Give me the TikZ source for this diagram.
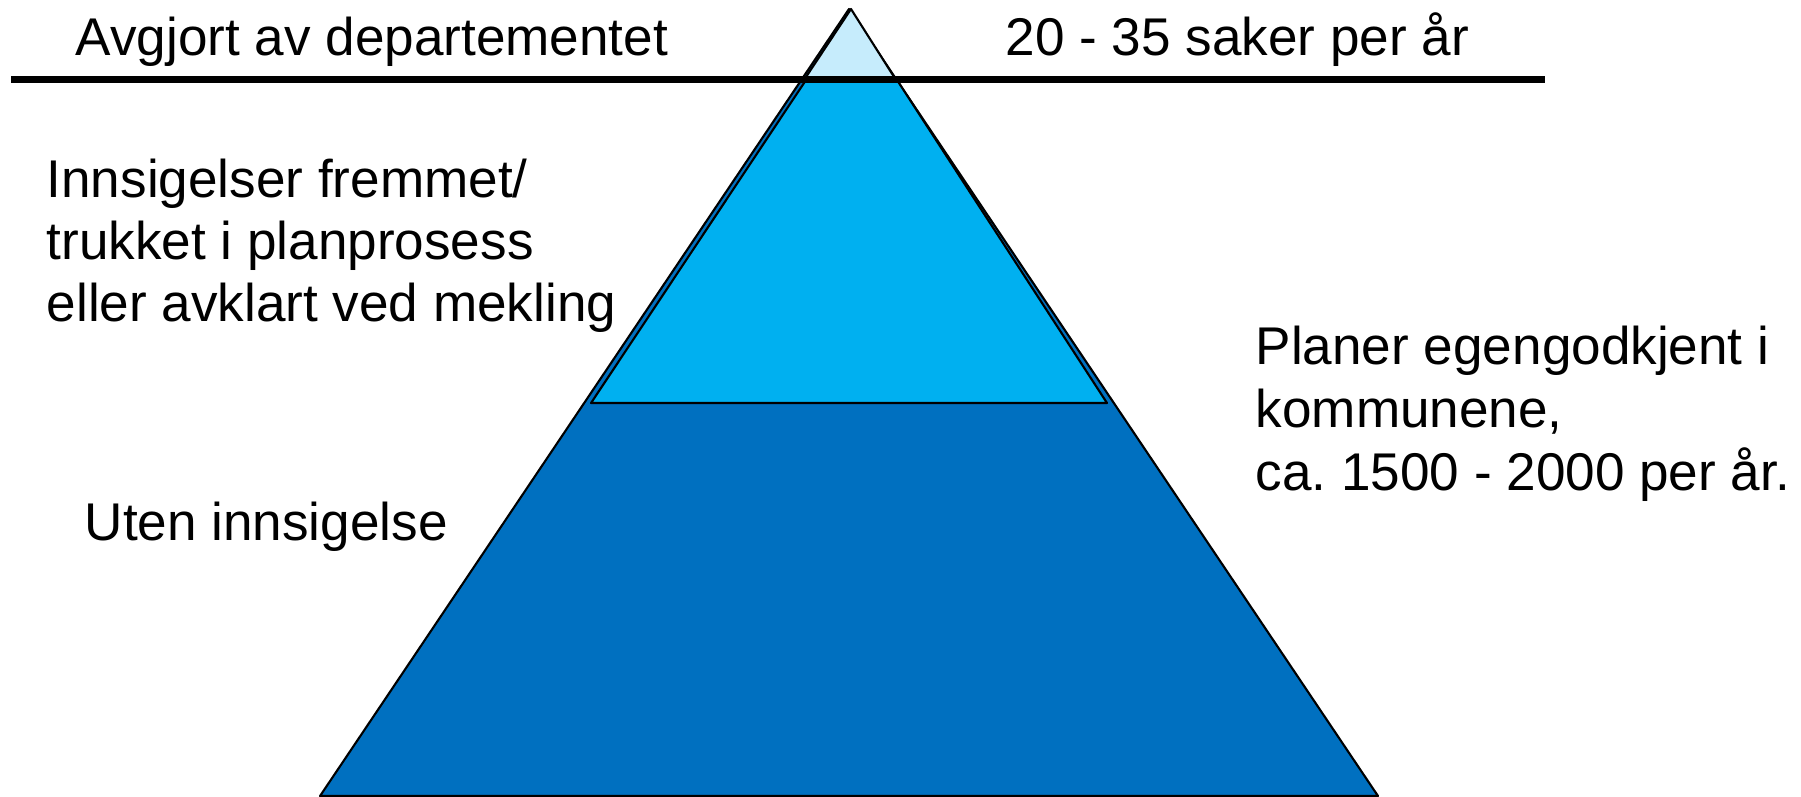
\documentclass[tikz,border=0pt]{standalone}
\usepackage{fontspec}
\setmainfont{Liberation Sans}
\frenchspacing
\definecolor{toplight}{RGB}{198,236,252}
\definecolor{midblue}{RGB}{0,176,240}
\definecolor{darkblue}{RGB}{0,112,192}
\tikzset{
  lbl/.style={anchor=base west, inner sep=0pt, font=\fontsize{15.1pt}{17.6pt}\selectfont},
  edge/.style={draw=black, line width=0.6pt, line join=round}
}
\begin{document}
\begin{tikzpicture}[x=0.01cm, y=-0.01cm]
\useasboundingbox (0,0) rectangle (1801,796);
% big triangle
\coordinate (A) at (849,9);
\coordinate (BL) at (320,796);
\coordinate (BR) at (1378,796);
\path[edge, fill=darkblue] (A) -- (BL) -- (BR) -- cycle;
% middle band
\coordinate (M1) at (806,80);
\coordinate (M2) at (897,80);
\coordinate (M3) at (1107,403);
\coordinate (M4) at (591,403);
\path[edge, fill=midblue] (M1) -- (M2) -- (M3) -- (M4) -- cycle;
% top triangle
\coordinate (T) at (851,9);
\coordinate (T1) at (804,80);
\coordinate (T2) at (896,80);
\path[edge, fill=toplight] (T) -- (T1) -- (T2) -- cycle;
% horizontal line
\coordinate (H1) at (11,79.5);
\coordinate (H2) at (1545,79.5);
\draw[line width=2pt] (H1) -- (H2);
% texts
\node[lbl] (t1) at (75,55) {Avgjort av departementet};
\node[lbl] (t2) at (1005,55) {20 - 35 saker per år};
\node[lbl] (l1) at (46,197) {Innsigelser fremmet/};
\node[lbl] (l2) at (46,259) {trukket i planprosess};
\node[lbl] (l3) at (46,321) {eller avklart ved mekling};
\node[lbl] (u1) at (84,540) {Uten innsigelse};
\node[lbl] (r1) at (1255,364) {Planer egengodkjent i};
\node[lbl] (r2) at (1255,427) {kommunene,};
\node[lbl] (r3) at (1255,490) {ca. 1500 - 2000 per år.};
\end{tikzpicture}
\end{document}
